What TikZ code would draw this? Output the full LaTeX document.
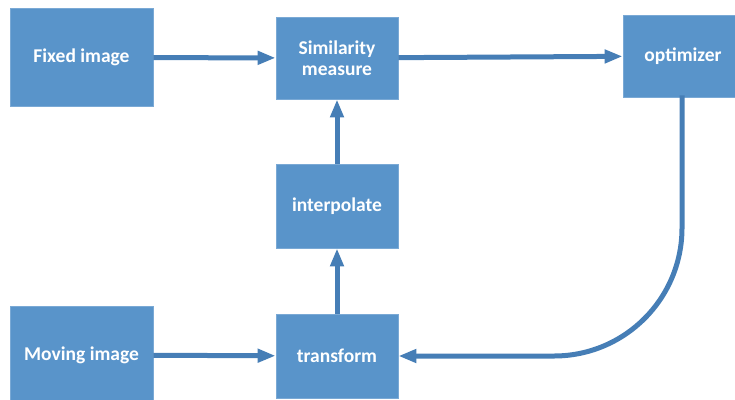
\documentclass[tikz,border=0pt]{standalone}
\usepackage{fontspec}
\setmainfont{Carlito}
\usepackage{xcolor}
\usepackage{tikz}
\usetikzlibrary{arrows.meta}
\usetikzlibrary{positioning}
\definecolor{boxblue}{RGB}{89,148,202}
\definecolor{lineblue}{RGB}{70,126,182}
\tikzstyle{block}=[rectangle,fill=boxblue,draw=boxblue!80!white,line width=0.8pt,text=white,align=center,inner sep=2pt,font=\fontsize{19.5}{21}\selectfont\bfseries]
\tikzstyle{edge} = [draw,line width=5pt,lineblue,-{Triangle[length=18pt,width=13pt]}]

\begin{document}
\begin{tikzpicture}[x=1pt,y=-1pt]

 \useasboundingbox (0,0) rectangle (735,399);

 %blocks
  \foreach \x/\y/\w/\h/\name/\label in {81.5/57.5/143/98/fixed/{Fixed image},
                                         337/58/122/82/sim/{Similarity\\measure},
                                         683/56/120/82/opt/{optimizer},
                                         337/206/122/84/interp/{interpolate},
                                         81.5/355/143/98/moving/{Moving image},
                                         337/356/122/84/trans/{transform}}
          \node[block, minimum width=\w pt, minimum height=\h pt] (\name) at (\x,\y) {\label};

 %straight connectors
  \foreach \source/ \dest in {fixed/sim, sim/opt, moving/trans, trans/interp, interp/sim}
         \path[edge] (\source) -- (\dest);

 %feedback
  \path[edge, rounded corners=128pt] ([xshift=-1pt, yshift=2pt]opt.south) |- (trans.east);

\end{tikzpicture}
\end{document}
